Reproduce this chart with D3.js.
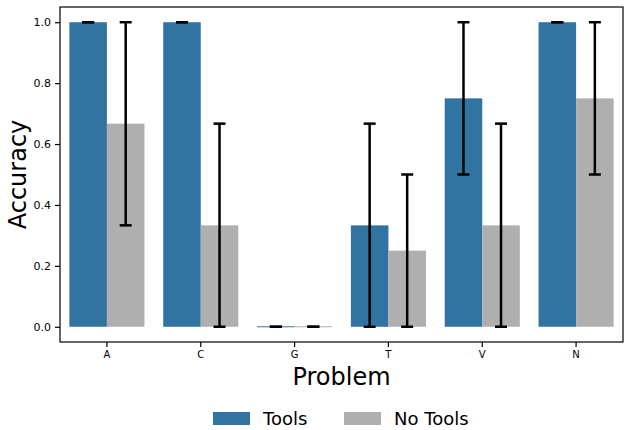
<!DOCTYPE html>
<html>
<head>
<meta charset="utf-8">
<script src="https://cdn.jsdelivr.net/npm/d3@7"></script>
<style>
  body { margin: 0; background: #fff; }
  text { font-family: "DejaVu Sans", sans-serif; fill: #000; }
</style>
</head>
<body>
<div id="chart"></div>
<script>
// problems and the two series (mean accuracy with its interval)
const problems = ["A", "C", "G", "T", "V", "N"];
const seriesNames = ["Tools", "No Tools"];
const toolsMean = [1.0, 1.0, 0.0, 0.333, 0.75, 1.0];
const toolsLow = [1.0, 1.0, 0.0, 0.0, 0.5, 1.0];
const toolsHigh = [1.0, 1.0, 0.0, 0.667, 1.0, 1.0];
const noToolsMean = [0.667, 0.333, 0.0, 0.25, 0.333, 0.75];
const noToolsLow = [0.333, 0.0, 0.0, 0.0, 0.0, 0.5];
const noToolsHigh = [1.0, 0.667, 0.0, 0.5, 0.667, 1.0];
const yTicks = [0.0, 0.2, 0.4, 0.6, 0.8, 1.0];
const colors = ["#3274a1", "#afafaf"];

const margin = { top: 7, right: 7, bottom: 88, left: 60 };
const width = 630 - margin.left - margin.right;
const height = 430 - margin.top - margin.bottom;

const svg = d3.select("#chart")
    .append("svg")
    .attr("width", 630)
    .attr("height", 430)
    .append("g")
    .attr("transform", "translate(" + margin.left + "," + margin.top + ")");

const x = d3.scaleBand()
    .domain(problems)
    .range([0, width])
    .paddingInner(0.2)
    .paddingOuter(0.1);

const x1 = d3.scaleBand()
    .domain(seriesNames)
    .range([0, x.bandwidth()]);

const y = d3.scaleLinear()
    .domain([-0.05, 1.05])
    .range([height, 0]);

const rows = [];
problems.forEach((p, i) => {
    rows.push({ problem: p, series: "Tools", mean: toolsMean[i], lo: toolsLow[i], hi: toolsHigh[i], c: colors[0] });
    rows.push({ problem: p, series: "No Tools", mean: noToolsMean[i], lo: noToolsLow[i], hi: noToolsHigh[i], c: colors[1] });
});

// bars
svg.selectAll(".bar")
    .data(rows)
    .enter()
    .append("rect")
    .attr("class", "bar")
    .attr("x", d => x(d.problem) + x1(d.series))
    .attr("y", d => y(d.mean))
    .attr("width", x1.bandwidth())
    .attr("height", d => y(0) - y(d.mean))
    .attr("fill", d => d.c);

// zero-height bars still show their edge
svg.selectAll(".zero")
    .data(rows.filter(d => d.mean === 0))
    .enter()
    .append("line")
    .attr("x1", d => x(d.problem) + x1(d.series))
    .attr("x2", d => x(d.problem) + x1(d.series) + x1.bandwidth())
    .attr("y1", y(0))
    .attr("y2", y(0))
    .attr("stroke", d => d.c)
    .attr("stroke-width", 1);

// error bars
const cx = d => x(d.problem) + x1(d.series) + x1.bandwidth() / 2;
const err = svg.selectAll(".err")
    .data(rows)
    .enter()
    .append("g")
    .attr("stroke", "#000")
    .attr("stroke-width", 2.5);

err.append("line")
    .attr("x1", cx).attr("x2", cx)
    .attr("y1", d => y(d.lo)).attr("y2", d => y(d.hi));
err.append("line")
    .attr("x1", d => cx(d) - 6).attr("x2", d => cx(d) + 6)
    .attr("y1", d => y(d.lo)).attr("y2", d => y(d.lo));
err.append("line")
    .attr("x1", d => cx(d) - 6).attr("x2", d => cx(d) + 6)
    .attr("y1", d => y(d.hi)).attr("y2", d => y(d.hi));

// axes
svg.append("g")
    .attr("transform", "translate(0," + height + ")")
    .call(d3.axisBottom(x).tickSize(5).tickPadding(4))
    .call(g => g.select(".domain").remove())
    .selectAll("text")
    .style("font-size", "10px");

svg.append("g")
    .call(d3.axisLeft(y).tickValues(yTicks).tickFormat(d3.format(".1f")).tickSize(5).tickPadding(4))
    .call(g => g.select(".domain").remove())
    .selectAll("text")
    .style("font-size", "11px");

svg.selectAll(".tick line").attr("stroke-width", 1.2);

svg.append("rect")
    .attr("width", width)
    .attr("height", height)
    .attr("fill", "none")
    .attr("stroke", "#000")
    .attr("stroke-width", 1.2);

// axis labels
svg.append("text")
    .attr("x", width / 2)
    .attr("y", height + 43)
    .attr("text-anchor", "middle")
    .style("font-size", "24px")
    .text("Problem");

svg.append("text")
    .attr("transform", "rotate(-90)")
    .attr("x", -y(0.5))
    .attr("y", -34)
    .attr("text-anchor", "middle")
    .style("font-size", "24px")
    .text("Accuracy");

// legend below the plot
const legend = svg.append("g")
    .attr("transform", "translate(0," + (height + 68) + ")");
const legendX = [153, 284];
seriesNames.forEach((s, i) => {
    legend.append("rect")
        .attr("x", legendX[i])
        .attr("y", 2)
        .attr("width", 37)
        .attr("height", 13)
        .attr("fill", colors[i]);
    legend.append("text")
        .attr("x", legendX[i] + 50)
        .attr("y", 15)
        .style("font-size", "18px")
        .text(s);
});
</script>
</body>
</html>
